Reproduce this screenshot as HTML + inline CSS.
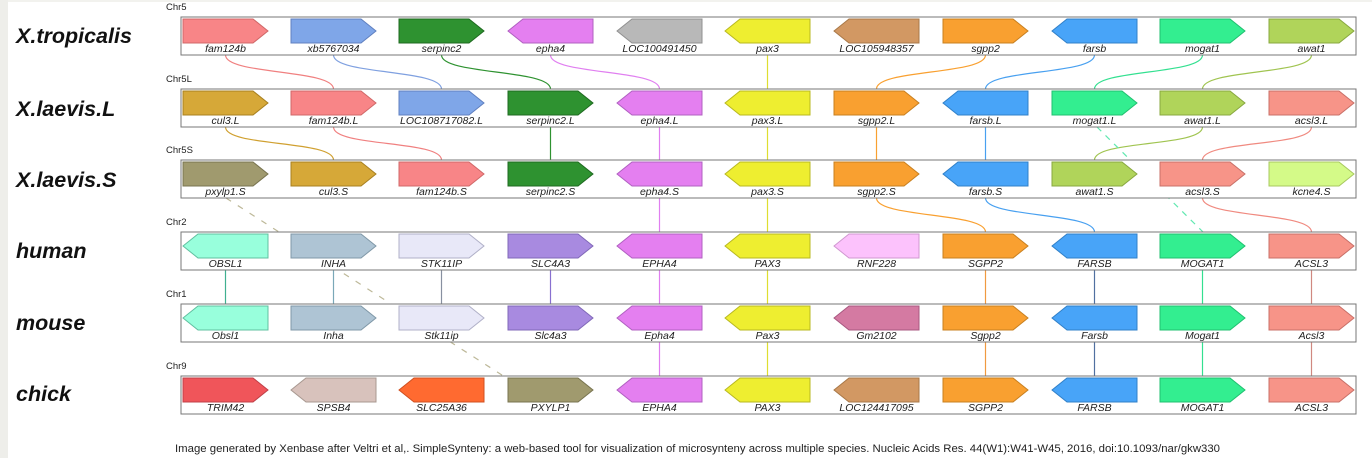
<!DOCTYPE html>
<html><head><meta charset="utf-8"><style>
html,body{margin:0;padding:0;background:#fff;}
body{width:1372px;height:458px;overflow:hidden;position:relative;}
.sp{font-family:"Liberation Sans",sans-serif;font-weight:bold;font-style:italic;font-size:21.5px;fill:#111;}
.chr{font-family:"Liberation Sans",sans-serif;font-size:9.5px;fill:#222;}
.g{font-family:"Liberation Sans",sans-serif;font-style:italic;font-size:10.5px;fill:#222;text-anchor:middle;}
.cap{font-family:"Liberation Sans",sans-serif;font-size:11px;fill:#222;}
.box{fill:#fff;stroke:#777;stroke-width:1;}
.c{fill:none;stroke-width:1.2;}
</style></head><body>
<svg width="1372" height="458" xmlns="http://www.w3.org/2000/svg">
<defs>
<polygon id="R" points="0,0 70,0 85,12 70,24 0,24"/>
<polygon id="L" points="0,12 15,0 85,0 85,24 15,24"/>
</defs>
<rect x="0" y="0" width="8" height="458" fill="#eeeeea"/>
<rect x="8" y="0" width="1364" height="2" fill="#f2f2ee"/>

<g class="c">
<path d="M225.5,55 C225.5,75 333.5,69 333.5,89" stroke="#f08080"/>
<path d="M333.5,55 C333.5,75 441.5,69 441.5,89" stroke="#7fa0e0"/>
<path d="M441.5,55 C441.5,75 550.5,69 550.5,89" stroke="#2e9230"/>
<path d="M550.5,55 C550.5,75 659.5,69 659.5,89" stroke="#e07ff0"/>
<path d="M767.5,55 L767.5,89" stroke="#dede30"/>
<path d="M985.5,55 C985.5,75 876.5,69 876.5,89" stroke="#f9a030"/>
<path d="M1094.5,55 C1094.5,75 985.5,69 985.5,89" stroke="#48a0f0"/>
<path d="M1202.5,55 C1202.5,75 1094.5,69 1094.5,89" stroke="#33e090"/>
<path d="M1311.5,55 C1311.5,75 1202.5,69 1202.5,89" stroke="#a0c450"/>
<path d="M225.5,127 C225.5,147 333.5,140 333.5,160" stroke="#d0a030"/>
<path d="M333.5,127 C333.5,147 441.5,140 441.5,160" stroke="#f08080"/>
<path d="M550.5,127 L550.5,160" stroke="#2e9230"/>
<path d="M659.5,127 L659.5,160" stroke="#e07ff0"/>
<path d="M767.5,127 L767.5,160" stroke="#dede30"/>
<path d="M876.5,127 L876.5,160" stroke="#f9a030"/>
<path d="M985.5,127 L985.5,160" stroke="#48a0f0"/>
<path d="M1202.5,127 C1202.5,147 1094.5,140 1094.5,160" stroke="#a0c450"/>
<path d="M1311.5,127 C1311.5,147 1202.5,140 1202.5,160" stroke="#f08a80"/>
<path d="M1097,127 L1203,232" stroke="#60e8b0" stroke-dasharray="6,6"/>
<path d="M659.5,198 L659.5,232" stroke="#e07ff0"/>
<path d="M767.5,198 L767.5,232" stroke="#dede30"/>
<path d="M876.5,198 C876.5,218 985.5,212 985.5,232" stroke="#f9a030"/>
<path d="M985.5,198 C985.5,218 1094.5,212 1094.5,232" stroke="#48a0f0"/>
<path d="M1202.5,198 C1202.5,218 1311.5,212 1311.5,232" stroke="#f08a80"/>
<path d="M226,198 L505,377" stroke="#bdb898" stroke-dasharray="6,8"/>
<path d="M333.5,270 V304" stroke="#7aa8b8"/>
<path d="M225.5,270 V304" stroke="#40b090"/>
<path d="M441.5,270 V304" stroke="#8890a0"/>
<path d="M550.5,270 V304" stroke="#8870d0"/>
<path d="M659.5,270 V304" stroke="#e07ff0"/>
<path d="M767.5,270 V304" stroke="#dede30"/>
<path d="M985.5,270 V304" stroke="#f09a40"/>
<path d="M1094.5,270 V304" stroke="#5070a0"/>
<path d="M1202.5,270 V304" stroke="#33e090"/>
<path d="M1311.5,270 V304" stroke="#d08880"/>
<path d="M659.5,342 V376" stroke="#e07ff0"/>
<path d="M767.5,342 V376" stroke="#dede30"/>
<path d="M985.5,342 V376" stroke="#f09a40"/>
<path d="M1094.5,342 V376" stroke="#5070a0"/>
<path d="M1202.5,342 V376" stroke="#33e090"/>
<path d="M1311.5,342 V376" stroke="#d08880"/>
</g>

<text class="sp" x="16" y="43">X.tropicalis</text>
<text class="sp" x="16" y="116">X.laevis.L</text>
<text class="sp" x="16" y="187">X.laevis.S</text>
<text class="sp" x="16" y="258">human</text>
<text class="sp" x="16" y="330">mouse</text>
<text class="sp" x="16" y="401">chick</text>

<text class="chr" x="166" y="10">Chr5</text>
<rect class="box" x="181" y="17" width="1175" height="38"/>
<use href="#R" x="183" y="19" fill="#f88587" stroke="#d06868"/>
<use href="#R" x="291" y="19" fill="#7fa6e8" stroke="#6080c0"/>
<use href="#R" x="399" y="19" fill="#2e9230" stroke="#1f6a20"/>
<use href="#L" x="508" y="19" fill="#e47ff0" stroke="#b060c0"/>
<use href="#L" x="617" y="19" fill="#b8b8b8" stroke="#909090"/>
<use href="#L" x="725" y="19" fill="#eeee30" stroke="#b8b820"/>
<use href="#L" x="834" y="19" fill="#d29863" stroke="#a87848"/>
<use href="#R" x="943" y="19" fill="#f9a030" stroke="#c88020"/>
<use href="#L" x="1052" y="19" fill="#48a4f8" stroke="#3080c8"/>
<use href="#R" x="1160" y="19" fill="#33ee90" stroke="#20c070"/>
<use href="#R" x="1269" y="19" fill="#b0d45a" stroke="#88a840"/>
<text class="g" x="225.5" y="52">fam124b</text>
<text class="g" x="333.5" y="52">xb5767034</text>
<text class="g" x="441.5" y="52">serpinc2</text>
<text class="g" x="550.5" y="52">epha4</text>
<text class="g" x="659.5" y="52">LOC100491450</text>
<text class="g" x="767.5" y="52">pax3</text>
<text class="g" x="876.5" y="52">LOC105948357</text>
<text class="g" x="985.5" y="52">sgpp2</text>
<text class="g" x="1094.5" y="52">farsb</text>
<text class="g" x="1202.5" y="52">mogat1</text>
<text class="g" x="1311.5" y="52">awat1</text>

<text class="chr" x="166" y="82">Chr5L</text>
<rect class="box" x="181" y="89" width="1175" height="38"/>
<use href="#R" x="183" y="91" fill="#d6a838" stroke="#a88020"/>
<use href="#R" x="291" y="91" fill="#f88587" stroke="#d06868"/>
<use href="#R" x="399" y="91" fill="#7fa6e8" stroke="#6080c0"/>
<use href="#R" x="508" y="91" fill="#2e9230" stroke="#1f6a20"/>
<use href="#L" x="617" y="91" fill="#e47ff0" stroke="#b060c0"/>
<use href="#L" x="725" y="91" fill="#eeee30" stroke="#b8b820"/>
<use href="#R" x="834" y="91" fill="#f9a030" stroke="#c88020"/>
<use href="#L" x="943" y="91" fill="#48a4f8" stroke="#3080c8"/>
<use href="#R" x="1052" y="91" fill="#33ee90" stroke="#20c070"/>
<use href="#R" x="1160" y="91" fill="#b0d45a" stroke="#88a840"/>
<use href="#R" x="1269" y="91" fill="#f79488" stroke="#c87068"/>
<text class="g" x="225.5" y="124">cul3.L</text>
<text class="g" x="333.5" y="124">fam124b.L</text>
<text class="g" x="441.5" y="124">LOC108717082.L</text>
<text class="g" x="550.5" y="124">serpinc2.L</text>
<text class="g" x="659.5" y="124">epha4.L</text>
<text class="g" x="767.5" y="124">pax3.L</text>
<text class="g" x="876.5" y="124">sgpp2.L</text>
<text class="g" x="985.5" y="124">farsb.L</text>
<text class="g" x="1094.5" y="124">mogat1.L</text>
<text class="g" x="1202.5" y="124">awat1.L</text>
<text class="g" x="1311.5" y="124">acsl3.L</text>

<text class="chr" x="166" y="153">Chr5S</text>
<rect class="box" x="181" y="160" width="1175" height="38"/>
<use href="#R" x="183" y="162" fill="#a09a6e" stroke="#787450"/>
<use href="#R" x="291" y="162" fill="#d6a838" stroke="#a88020"/>
<use href="#R" x="399" y="162" fill="#f88587" stroke="#d06868"/>
<use href="#R" x="508" y="162" fill="#2e9230" stroke="#1f6a20"/>
<use href="#L" x="617" y="162" fill="#e47ff0" stroke="#b060c0"/>
<use href="#L" x="725" y="162" fill="#eeee30" stroke="#b8b820"/>
<use href="#R" x="834" y="162" fill="#f9a030" stroke="#c88020"/>
<use href="#L" x="943" y="162" fill="#48a4f8" stroke="#3080c8"/>
<use href="#R" x="1052" y="162" fill="#b0d45a" stroke="#88a840"/>
<use href="#R" x="1160" y="162" fill="#f79488" stroke="#c87068"/>
<use href="#R" x="1269" y="162" fill="#d4fa88" stroke="#a8c860"/>
<text class="g" x="225.5" y="195">pxylp1.S</text>
<text class="g" x="333.5" y="195">cul3.S</text>
<text class="g" x="441.5" y="195">fam124b.S</text>
<text class="g" x="550.5" y="195">serpinc2.S</text>
<text class="g" x="659.5" y="195">epha4.S</text>
<text class="g" x="767.5" y="195">pax3.S</text>
<text class="g" x="876.5" y="195">sgpp2.S</text>
<text class="g" x="985.5" y="195">farsb.S</text>
<text class="g" x="1094.5" y="195">awat1.S</text>
<text class="g" x="1202.5" y="195">acsl3.S</text>
<text class="g" x="1311.5" y="195">kcne4.S</text>

<text class="chr" x="166" y="225">Chr2</text>
<rect class="box" x="181" y="232" width="1175" height="38"/>
<use href="#L" x="183" y="234" fill="#98ffdc" stroke="#60c0a0"/>
<use href="#R" x="291" y="234" fill="#aec4d4" stroke="#8098a8"/>
<use href="#R" x="399" y="234" fill="#e8e8f8" stroke="#b0b0c8"/>
<use href="#R" x="508" y="234" fill="#a88ae0" stroke="#8068b8"/>
<use href="#L" x="617" y="234" fill="#e47ff0" stroke="#b060c0"/>
<use href="#L" x="725" y="234" fill="#eeee30" stroke="#b8b820"/>
<use href="#L" x="834" y="234" fill="#fcc2fc" stroke="#d098d0"/>
<use href="#R" x="943" y="234" fill="#f9a030" stroke="#c88020"/>
<use href="#L" x="1052" y="234" fill="#48a4f8" stroke="#3080c8"/>
<use href="#R" x="1160" y="234" fill="#33ee90" stroke="#20c070"/>
<use href="#R" x="1269" y="234" fill="#f79488" stroke="#c87068"/>
<text class="g" x="225.5" y="267">OBSL1</text>
<text class="g" x="333.5" y="267">INHA</text>
<text class="g" x="441.5" y="267">STK11IP</text>
<text class="g" x="550.5" y="267">SLC4A3</text>
<text class="g" x="659.5" y="267">EPHA4</text>
<text class="g" x="767.5" y="267">PAX3</text>
<text class="g" x="876.5" y="267">RNF228</text>
<text class="g" x="985.5" y="267">SGPP2</text>
<text class="g" x="1094.5" y="267">FARSB</text>
<text class="g" x="1202.5" y="267">MOGAT1</text>
<text class="g" x="1311.5" y="267">ACSL3</text>

<text class="chr" x="166" y="297">Chr1</text>
<rect class="box" x="181" y="304" width="1175" height="38"/>
<use href="#L" x="183" y="306" fill="#98ffdc" stroke="#60c0a0"/>
<use href="#R" x="291" y="306" fill="#aec4d4" stroke="#8098a8"/>
<use href="#R" x="399" y="306" fill="#e8e8f8" stroke="#b0b0c8"/>
<use href="#R" x="508" y="306" fill="#a88ae0" stroke="#8068b8"/>
<use href="#L" x="617" y="306" fill="#e47ff0" stroke="#b060c0"/>
<use href="#L" x="725" y="306" fill="#eeee30" stroke="#b8b820"/>
<use href="#L" x="834" y="306" fill="#d47aa2" stroke="#a85880"/>
<use href="#R" x="943" y="306" fill="#f9a030" stroke="#c88020"/>
<use href="#L" x="1052" y="306" fill="#48a4f8" stroke="#3080c8"/>
<use href="#R" x="1160" y="306" fill="#33ee90" stroke="#20c070"/>
<use href="#R" x="1269" y="306" fill="#f79488" stroke="#c87068"/>
<text class="g" x="225.5" y="339">Obsl1</text>
<text class="g" x="333.5" y="339">Inha</text>
<text class="g" x="441.5" y="339">Stk11ip</text>
<text class="g" x="550.5" y="339">Slc4a3</text>
<text class="g" x="659.5" y="339">Epha4</text>
<text class="g" x="767.5" y="339">Pax3</text>
<text class="g" x="876.5" y="339">Gm2102</text>
<text class="g" x="985.5" y="339">Sgpp2</text>
<text class="g" x="1094.5" y="339">Farsb</text>
<text class="g" x="1202.5" y="339">Mogat1</text>
<text class="g" x="1311.5" y="339">Acsl3</text>

<text class="chr" x="166" y="369">Chr9</text>
<rect class="box" x="181" y="376" width="1175" height="38"/>
<use href="#R" x="183" y="378" fill="#f0555a" stroke="#c04048"/>
<use href="#L" x="291" y="378" fill="#d8c2bc" stroke="#a89890"/>
<use href="#L" x="399" y="378" fill="#ff6a30" stroke="#d05020"/>
<use href="#R" x="508" y="378" fill="#a09a6e" stroke="#787450"/>
<use href="#L" x="617" y="378" fill="#e47ff0" stroke="#b060c0"/>
<use href="#L" x="725" y="378" fill="#eeee30" stroke="#b8b820"/>
<use href="#L" x="834" y="378" fill="#d29863" stroke="#a87848"/>
<use href="#R" x="943" y="378" fill="#f9a030" stroke="#c88020"/>
<use href="#L" x="1052" y="378" fill="#48a4f8" stroke="#3080c8"/>
<use href="#R" x="1160" y="378" fill="#33ee90" stroke="#20c070"/>
<use href="#R" x="1269" y="378" fill="#f79488" stroke="#c87068"/>
<text class="g" x="225.5" y="411">TRIM42</text>
<text class="g" x="333.5" y="411">SPSB4</text>
<text class="g" x="441.5" y="411">SLC25A36</text>
<text class="g" x="550.5" y="411">PXYLP1</text>
<text class="g" x="659.5" y="411">EPHA4</text>
<text class="g" x="767.5" y="411">PAX3</text>
<text class="g" x="876.5" y="411">LOC124417095</text>
<text class="g" x="985.5" y="411">SGPP2</text>
<text class="g" x="1094.5" y="411">FARSB</text>
<text class="g" x="1202.5" y="411">MOGAT1</text>
<text class="g" x="1311.5" y="411">ACSL3</text>

<text class="cap" x="175" y="452" textLength="1045" lengthAdjust="spacingAndGlyphs">Image generated by Xenbase after Veltri et al,. SimpleSynteny: a web-based tool for visualization of microsynteny across multiple species. Nucleic Acids Res. 44(W1):W41-W45, 2016, doi:10.1093/nar/gkw330</text>
</svg>
</body></html>
